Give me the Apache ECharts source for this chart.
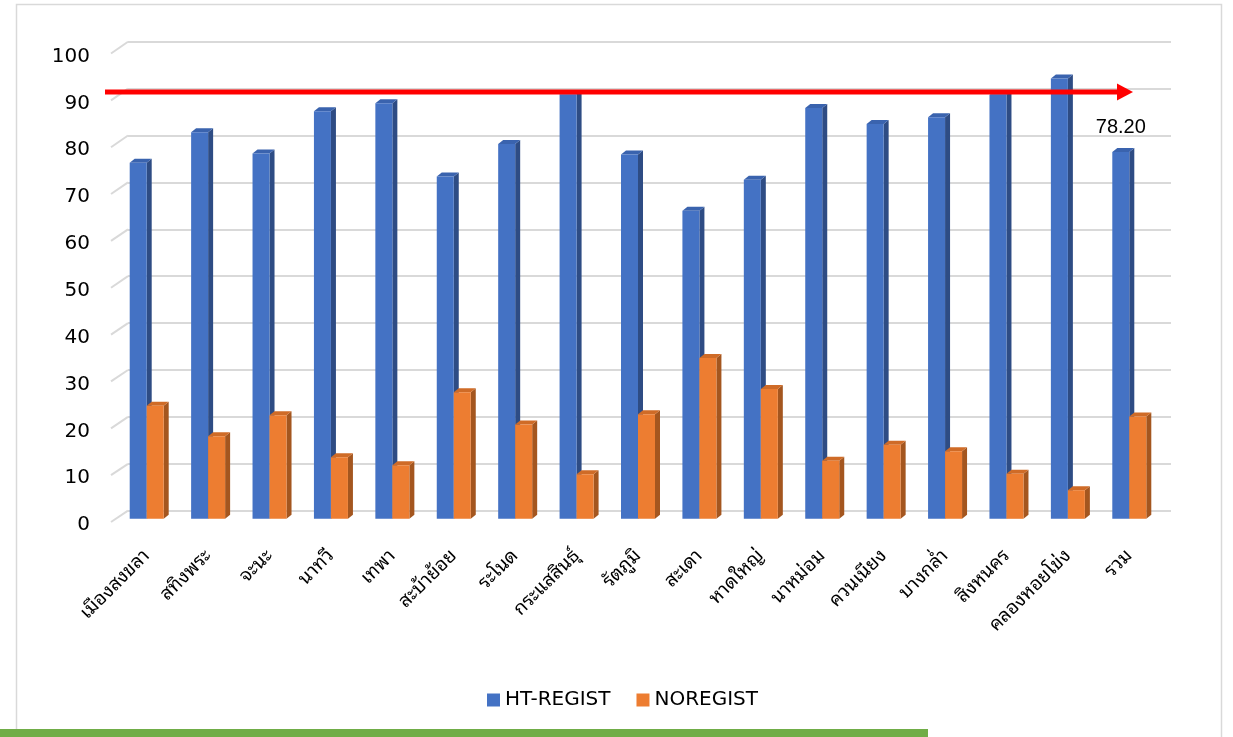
<!DOCTYPE html>
<html>
<head>
<meta charset="utf-8">
<script src="https://cdn.jsdelivr.net/npm/echarts@6/dist/echarts.min.js"></script>
<style>
  html, body { margin: 0; padding: 0; background: #ffffff; }
  #chart { width: 1233px; height: 737px; }
</style>
</head>
<body>
<div id="chart"></div>
<script>
// Districts (last one is the overall total)
const categories = ['เมืองสงขลา', 'สทิงพระ', 'จะนะ', 'นาทวี', 'เทพา', 'สะบ้าย้อย', 'ระโนด',
  'กระแสสินธุ์', 'รัตภูมิ', 'สะเดา', 'หาดใหญ่', 'นาหม่อม', 'ควนเนียง', 'บางกล่ำ',
  'สิงหนคร', 'คลองหอยโข่ง', 'รวม'];
// Percent registered / not registered
const htRegist = [75.9, 82.4, 77.9, 86.9, 88.6, 73.0, 79.9, 90.5, 77.7, 65.7, 72.3, 87.6, 84.2, 85.6, 90.4, 93.9, 78.2];
const noRegist = [24.1, 17.6, 22.1, 13.1, 11.4, 27.0, 20.1, 9.5, 22.3, 34.3, 27.7, 12.4, 15.8, 14.4, 9.6, 6.1, 21.8];
const seriesNames = ['HT-REGIST', 'NOREGIST'];
const yTicks = [0, 10, 20, 30, 40, 50, 60, 70, 80, 90, 100];
const targetLevel = 91;

const W = 1233, H = 737;
// plane layout: bars sit between the front (axis labels) plane and the back (gridline) plane
const L = {
  bar:   { left: 116, right: 73, top: 49.8, bottom: 218.2 },
  back:  { left: 128, right: 62, top: 41.7, bottom: 226.3 },
  front: { left: 111, right: 79, top: 56.5, bottom: 212 },
  barW: 17, depthX: 5, depthY: 4
};

const palette = [
  { face: '#4472C4', side: '#2E4C84', top: '#3A63AE' },
  { face: '#ED7D31', side: '#A4561F', top: '#CF6B27' }
];

function bar3d(seriesIdx) {
  return function (params, api) {
    const idx = api.value(0);
    const val = api.value(1);
    const topPt = api.coord([idx, val]);
    const basePt = api.coord([idx, 0]);
    const w = L.barW, dx = L.depthX, dy = L.depthY;
    const x = seriesIdx === 0 ? topPt[0] - w : topPt[0];
    const yT = topPt[1], yB = basePt[1];
    const c = palette[seriesIdx];
    const children = [
      { type: 'polygon', shape: { points: [[x + w, yT], [x + w + dx, yT - dy], [x + w + dx, yB - dy], [x + w, yB]] },
        style: { fill: c.side } },
      { type: 'polygon', shape: { points: [[x, yT], [x + dx, yT - dy], [x + w + dx, yT - dy], [x + w, yT]] },
        style: { fill: c.top } },
      { type: 'rect', shape: { x: x, y: yT, width: w, height: yB - yT },
        style: { fill: c.face } }
    ];
    if (seriesIdx === 0 && idx === categories.length - 1) {
      children.push({ type: 'text', x: x + w / 2, y: yT - 25,
        style: { text: val.toFixed(2), fill: '#000', font: '20px "Liberation Sans", Arial, sans-serif',
          align: 'center', verticalAlign: 'middle' } });
    }
    return { type: 'group', children: children };
  };
}

const thaiFont = 'Tahoma, "Noto Sans Thai Looped", Loma, Garuda, Waree, Umpush, Sawasdee, Kinnari, Norasi, "Noto Sans Thai", "DejaVu Sans", sans-serif';

const chart = echarts.init(document.getElementById('chart'), null, { renderer: 'canvas' });

const option = {
  animation: false,
  backgroundColor: '#ffffff',
  textStyle: { fontFamily: '"DejaVu Sans", sans-serif' },
  grid: [
    Object.assign({}, L.bar),
    Object.assign({}, L.back),
    Object.assign({}, L.front)
  ],
  xAxis: [
    { type: 'category', gridIndex: 0, data: categories,
      axisLine: { show: false }, axisTick: { show: false },
      axisLabel: { interval: 0, rotate: 45, margin: 34, color: '#000',
        fontSize: 19, fontFamily: thaiFont } },
    { type: 'category', gridIndex: 1, data: categories, show: false },
    { type: 'category', gridIndex: 2, data: categories, show: false }
  ],
  yAxis: [
    { type: 'value', gridIndex: 0, min: 0, max: 100, interval: 10, show: false },
    { type: 'value', gridIndex: 1, min: 0, max: 100, interval: 10,
      axisLine: { show: false }, axisTick: { show: false }, axisLabel: { show: false },
      splitLine: { show: true, lineStyle: { color: '#D9D9D9', width: 2 } } },
    { type: 'value', gridIndex: 2, min: 0, max: 100, interval: 10,
      axisLine: { show: false }, axisTick: { show: false }, splitLine: { show: false },
      axisLabel: { margin: 21, color: '#000', fontSize: 20, fontFamily: '"DejaVu Sans", sans-serif',
        formatter: function (v) { return yTicks.indexOf(v) >= 0 ? String(v) : ''; } } }
  ],
  legend: {
    data: seriesNames.map(function (n, i) {
      return { name: n, icon: 'rect', itemStyle: { color: palette[i].face } };
    }),
    left: 487, top: 690, padding: 0, itemWidth: 13, itemHeight: 13, itemGap: 26,
    textStyle: { fontSize: 20, color: '#000', fontFamily: '"DejaVu Sans", sans-serif' }
  },
  series: [
    { name: seriesNames[0], type: 'custom', xAxisIndex: 0, yAxisIndex: 0,
      itemStyle: { color: palette[0].face }, renderItem: bar3d(0),
      data: htRegist.map(function (v, i) { return [i, v]; }), z: 3 },
    { name: seriesNames[1], type: 'custom', xAxisIndex: 0, yAxisIndex: 0,
      itemStyle: { color: palette[1].face }, renderItem: bar3d(1),
      data: noRegist.map(function (v, i) { return [i, v]; }), z: 3 }
  ]
};
chart.setOption(option);

// Depth edges of the wall on the left, target arrow, frame and footer stripe
const deco = [];
yTicks.forEach(function (v) {
  const yb = chart.convertToPixel({ yAxisIndex: 1 }, v);
  const yf = chart.convertToPixel({ yAxisIndex: 2 }, v);
  deco.push({ type: 'line', z: 1, shape: { x1: L.front.left, y1: yf - 3, x2: L.back.left, y2: yb },
    style: { stroke: '#D9D9D9', lineWidth: 2 } });
});
const yTarget = chart.convertToPixel({ yAxisIndex: 0 }, targetLevel);
const arrowEnd = W - 100;
deco.push({ type: 'line', z: 10, shape: { x1: 105, y1: yTarget, x2: arrowEnd - 14, y2: yTarget },
  style: { stroke: '#FF0000', lineWidth: 5 } });
deco.push({ type: 'polygon', z: 10, shape: { points: [[arrowEnd - 16, yTarget - 8.5], [arrowEnd, yTarget], [arrowEnd - 16, yTarget + 8.5]] },
  style: { fill: '#FF0000' } });
deco.push({ type: 'rect', z: 0, shape: { x: 16.5, y: 4.5, width: 1205, height: 760 },
  style: { fill: null, stroke: '#D9D9D9', lineWidth: 1.5 } });
deco.push({ type: 'rect', z: 20, shape: { x: 0, y: 729, width: 928, height: 8 },
  style: { fill: '#70AD47' } });
chart.setOption({ graphic: deco });
</script>
</body>
</html>
